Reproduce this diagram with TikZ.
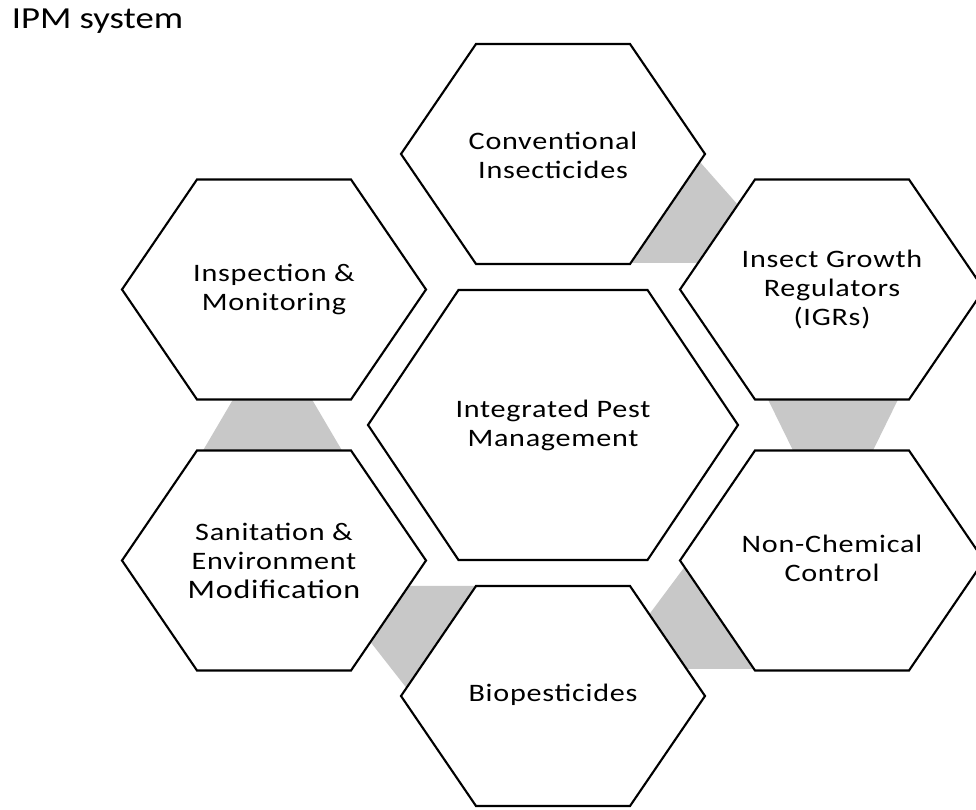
\documentclass[tikz,border=0pt]{standalone}
\usepackage{fontspec}
\setmainfont{Carlito}[FakeStretch=1.2,LetterSpace=3]
\newfontfamily\headfont{Carlito}[FakeStretch=1.2]
\definecolor{bandgray}{RGB}{200,200,200}

\begin{document}
\begin{tikzpicture}[
        cell/.style={draw=black, fill=white, line width=1.2pt, line join=miter},
        band/.style={fill=bandgray},
        celltext/.style={align=center, inner sep=0pt, font=\fontsize{14.3}{16.5}\selectfont}
    ]
        \useasboundingbox (0,0) rectangle (19.52,16.20);

        \node [anchor=base west, inner sep=0pt, font=\headfont\fontsize{17.4}{20}\selectfont] (title) at (0.23,15.62) {IPM system};

        % grey links between neighbouring cells
        \fill [band] (14.00,12.96) -- (14.76,12.10) -- (13.96,10.94) -- (12.62,10.94) -- cycle;
        \fill [band] (15.36,8.21) -- (17.96,8.21) -- (17.46,7.19) -- (15.86,7.19) -- cycle;
        \fill [band] (4.66,8.21) -- (6.24,8.21) -- (6.84,7.19) -- (4.06,7.19) -- cycle;
        \fill [band] (8.17,4.48) -- (9.52,4.48) -- (8.13,2.44) -- (7.41,3.36) -- cycle;
        \fill [band] (12.99,3.92) -- (13.69,4.86) -- (15.08,2.82) -- (13.73,2.82) -- cycle;

        % outer ring
        \draw [cell] (11.06,13.12) ++(-3.04,0) -- ++(1.50,2.20) -- ++(3.08,0) -- ++(1.50,-2.20) -- ++(-1.50,-2.20) -- ++(-3.08,0) -- cycle;
        \draw [cell] (5.48,10.41) ++(-3.04,0) -- ++(1.50,2.20) -- ++(3.08,0) -- ++(1.50,-2.20) -- ++(-1.50,-2.20) -- ++(-3.08,0) -- cycle;
        \draw [cell] (16.64,10.41) ++(-3.04,0) -- ++(1.50,2.20) -- ++(3.08,0) -- ++(1.50,-2.20) -- ++(-1.50,-2.20) -- ++(-3.08,0) -- cycle;
        \draw [cell] (5.48,4.99) ++(-3.04,0) -- ++(1.50,2.20) -- ++(3.08,0) -- ++(1.50,-2.20) -- ++(-1.50,-2.20) -- ++(-3.08,0) -- cycle;
        \draw [cell] (16.64,4.99) ++(-3.04,0) -- ++(1.50,2.20) -- ++(3.08,0) -- ++(1.50,-2.20) -- ++(-1.50,-2.20) -- ++(-3.08,0) -- cycle;
        \draw [cell] (11.06,2.28) ++(-3.04,0) -- ++(1.50,2.20) -- ++(3.08,0) -- ++(1.50,-2.20) -- ++(-1.50,-2.20) -- ++(-3.08,0) -- cycle;

        % centre cell
        \draw [cell] (11.06,7.70) ++(-3.70,0) -- ++(1.81,2.70) -- ++(3.78,0) -- ++(1.81,-2.70) -- ++(-1.81,-2.70) -- ++(-3.78,0) -- cycle;

        \node [celltext] (conv) at (11.06,13.10) {Conventional\\Insecticides};
        \node [celltext] (insp) at (5.48,10.41) {Inspection \&\\Monitoring};
        \node [celltext] (igr) at (16.64,10.41) {Insect Growth\\Regulators\\(IGRs)};
        \node [celltext] (ipm) at (11.06,7.70) {Integrated Pest\\Management};
        \node [celltext] (sanit) at (5.48,4.99) {Sanitation \&\\Environment\\{\fontsize{15.2}{16.5}\selectfont Modification}};
        \node [celltext] (nonchem) at (16.64,5.03) {Non-Chemical\\Control};
        \node [celltext] (bio) at (11.06,2.30) {Biopesticides};
\end{tikzpicture}
\end{document}
